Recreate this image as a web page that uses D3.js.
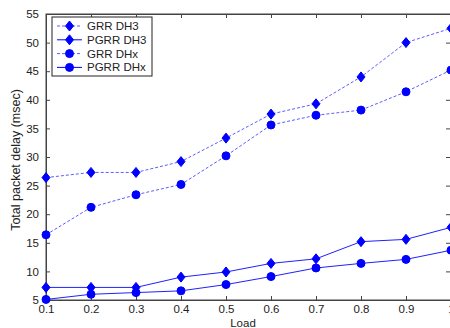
<!DOCTYPE html>
<html>
<head>
<meta charset="utf-8">
<script src="https://cdn.jsdelivr.net/npm/d3@7"></script>
<style>
  body { margin: 0; background: #fff; }
  svg { display: block; font-family: "Liberation Sans", Arial, sans-serif; }
</style>
</head>
<body>
<div class="chart"></div>
<script>
var w = 450,
  h = 328;

// data
var loads = [0.1, 0.2, 0.3, 0.4, 0.5, 0.6, 0.7, 0.8, 0.9, 1.0];
var grrDH3 = [26.4, 27.3, 27.3, 29.2, 33.3, 37.5, 39.3, 44.0, 50.0, 52.5];
var pgrrDH3 = [7.2, 7.2, 7.2, 9.0, 9.9, 11.4, 12.2, 15.2, 15.6, 17.7];
var grrDHx = [16.4, 21.2, 23.4, 25.2, 30.2, 35.6, 37.3, 38.2, 41.4, 45.2];
var pgrrDHx = [5.1, 6.0, 6.3, 6.6, 7.7, 9.1, 10.6, 11.4, 12.1, 13.7];
var seriesNames = ['GRR DH3', 'PGRR DH3', 'GRR DHx', 'PGRR DHx'];
var xTicks = [0.1, 0.2, 0.3, 0.4, 0.5, 0.6, 0.7, 0.8, 0.9, 1];
var yTicks = [5, 10, 15, 20, 25, 30, 35, 40, 45, 50, 55];

var series = [
  { name: seriesNames[0], values: grrDH3, dashed: true, marker: 'diamond' },
  { name: seriesNames[1], values: pgrrDH3, dashed: false, marker: 'diamond' },
  { name: seriesNames[2], values: grrDHx, dashed: true, marker: 'circle' },
  { name: seriesNames[3], values: pgrrDHx, dashed: false, marker: 'circle' }
];

var pLeft = 46, pRight = 451, pTop = 14, pBottom = 300;

var x = d3.scaleLinear().domain([0.1, 1]).range([pLeft, pRight]);
var y = d3.scaleLinear().domain([5, 55]).range([pBottom, pTop]);

var svg = d3.select('.chart')
  .append('svg')
  .attr('width', w)
  .attr('height', h);

var axisColor = '#444';

// box
svg.append('rect')
  .attr('x', pLeft).attr('y', pTop)
  .attr('width', pRight - pLeft).attr('height', pBottom - pTop)
  .attr('fill', '#fff')
  .attr('stroke', axisColor);

var fmtX = function (d) { return d === 1 ? '1' : d3.format('.1f')(d); };

var xBottom = svg.append('g')
  .attr('transform', 'translate(0,' + pBottom + ')')
  .call(d3.axisBottom(x).tickValues(xTicks).tickFormat(fmtX).tickSizeInner(-4).tickSizeOuter(0).tickPadding(5));
var xTop = svg.append('g')
  .attr('transform', 'translate(0,' + pTop + ')')
  .call(d3.axisTop(x).tickValues(xTicks).tickFormat('').tickSizeInner(-4).tickSizeOuter(0));
var yLeft = svg.append('g')
  .attr('transform', 'translate(' + pLeft + ',0)')
  .call(d3.axisLeft(y).tickValues(yTicks).tickSizeInner(-4).tickSizeOuter(0).tickPadding(7));
var yRight = svg.append('g')
  .attr('transform', 'translate(' + (pRight - 1) + ',0)')
  .call(d3.axisRight(y).tickValues(yTicks).tickFormat('').tickSizeInner(-4).tickSizeOuter(0));

[xBottom, xTop, yLeft, yRight].forEach(function (g) {
  g.select('.domain').attr('stroke', axisColor);
  g.selectAll('.tick line').attr('stroke', axisColor);
  g.selectAll('.tick text').attr('fill', '#222').style('font-size', '11.5px').style('font-family', '"Liberation Sans", Arial, sans-serif');
});

var line = d3.line()
  .x(function (d, i) { return x(loads[i]); })
  .y(function (d) { return y(d); });

var diamond = 'M0,-5L4,0L0,5L-4,0Z';

var drawMarker = function (g, type) {
  if (type === 'diamond') {
    g.append('path').attr('d', diamond).attr('fill', '#0000ff').attr('stroke', '#0000ff');
  } else {
    g.append('circle').attr('r', 4).attr('fill', '#0000ff').attr('stroke', '#0000ff');
  }
};

series.forEach(function (s) {
  svg.append('path')
    .datum(s.values)
    .attr('d', line)
    .attr('fill', 'none')
    .attr('stroke', s.dashed ? '#5c5cff' : '#2020ff')
    .attr('stroke-width', 1)
    .attr('stroke-dasharray', s.dashed ? '3,2' : null);

  s.values.forEach(function (v, i) {
    var g = svg.append('g').attr('transform', 'translate(' + x(loads[i]) + ',' + y(v) + ')');
    drawMarker(g, s.marker);
  });
});

// legend
var legend = svg.append('g');
legend.append('rect')
  .attr('x', 52).attr('y', 17)
  .attr('width', 100).attr('height', 59)
  .attr('fill', '#fff')
  .attr('stroke', '#222');

series.forEach(function (s, i) {
  var ly = 26 + i * 13.8;
  legend.append('line')
    .attr('x1', 57).attr('x2', 82)
    .attr('y1', ly).attr('y2', ly)
    .attr('stroke', s.dashed ? '#5c5cff' : '#0000ff')
    .attr('stroke-dasharray', s.dashed ? '3,2' : null);
  var g = legend.append('g').attr('transform', 'translate(69.5,' + ly + ')');
  drawMarker(g, s.marker);
  legend.append('text')
    .attr('x', 87).attr('y', ly + 4)
    .attr('fill', '#222')
    .style('font-size', '11.5px')
    .text(s.name);
});

// axis labels
svg.append('text')
  .attr('x', 243).attr('y', 327)
  .attr('text-anchor', 'middle')
  .attr('fill', '#222')
  .style('font-size', '11.5px')
  .text('Load');

svg.append('text')
  .attr('transform', 'translate(20,160) rotate(-90)')
  .attr('text-anchor', 'middle')
  .attr('fill', '#222')
  .style('font-size', '12.5px')
  .text('Total packet delay (msec)');
</script>
</body>
</html>
